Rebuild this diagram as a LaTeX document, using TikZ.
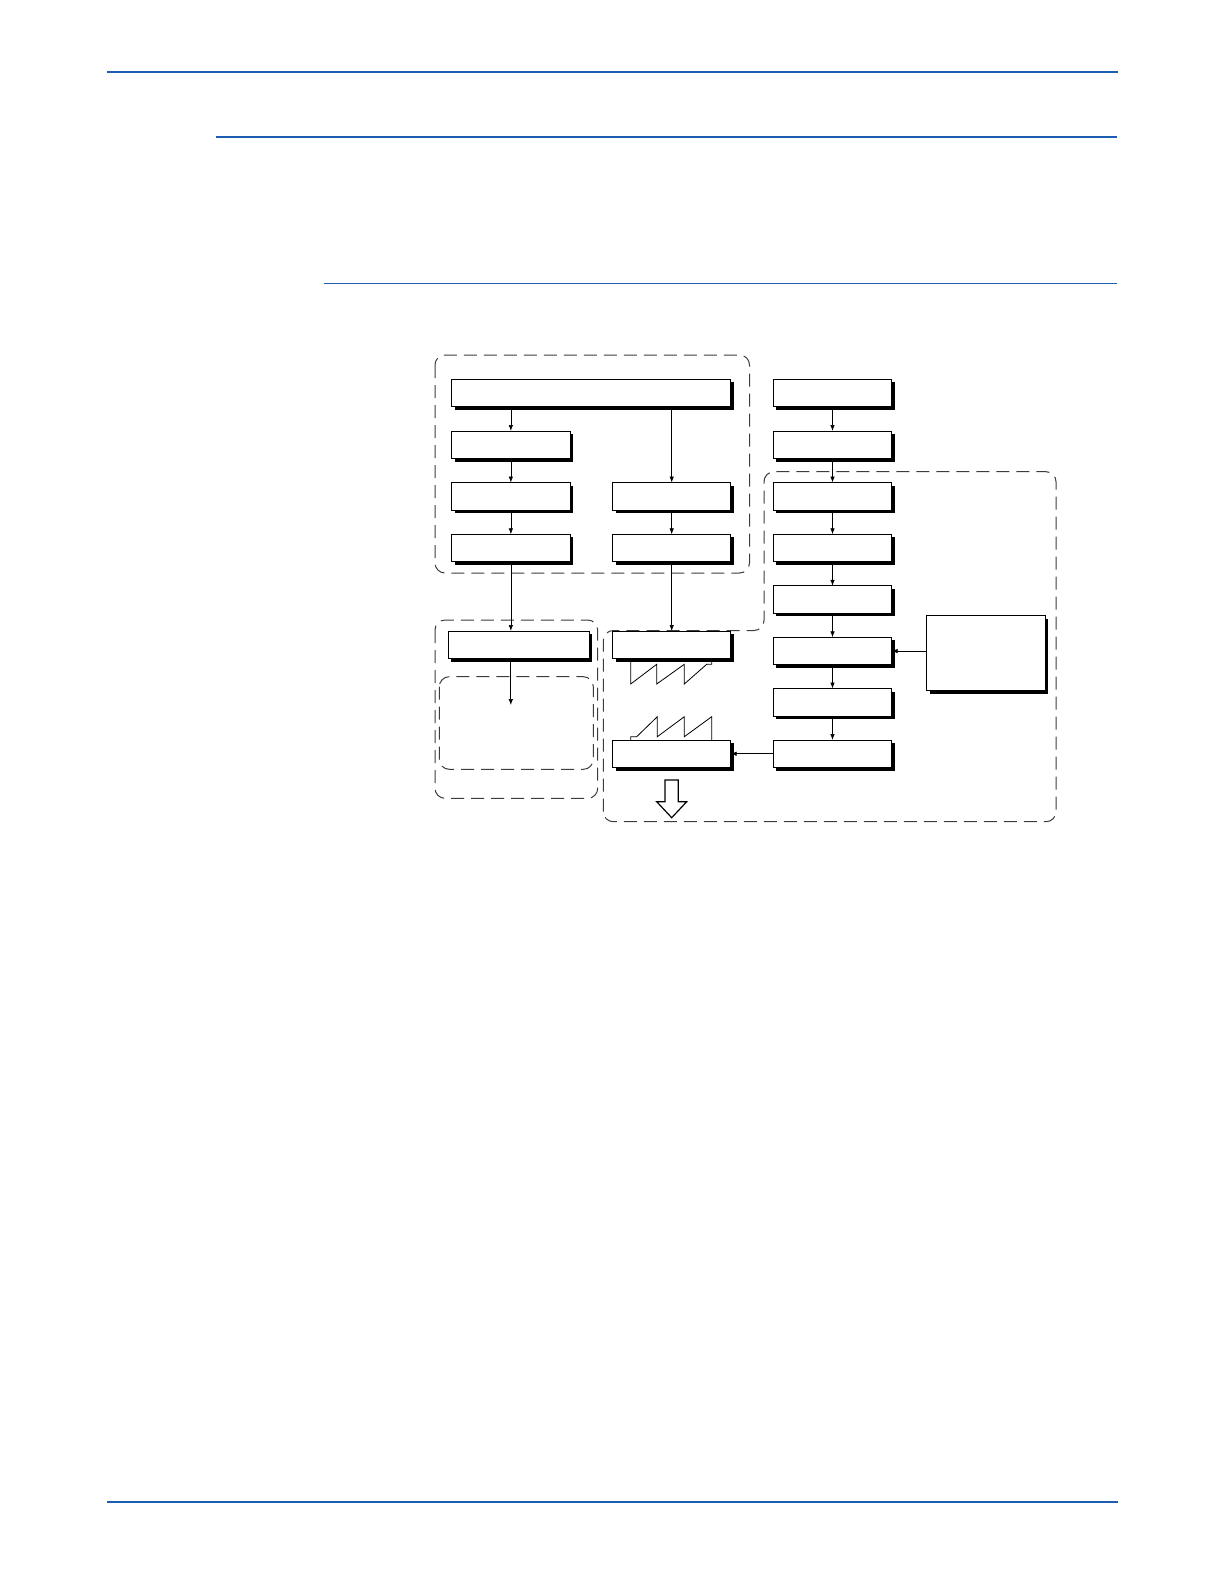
\documentclass[tikz,border=0pt]{standalone}
\usetikzlibrary{arrows.meta,shadows}
\definecolor{rule}{RGB}{28,92,178}
\definecolor{dsh}{RGB}{60,60,60}
\begin{document}
\begin{tikzpicture}[x=1pt,y=-1pt,
  blk/.style={draw=black, fill=white, line width=0.9pt, inner sep=0pt, outer sep=0pt,
    anchor=north west, minimum height=27.5pt,
    drop shadow={shadow xshift=3pt, shadow yshift=-3pt, fill=black, opacity=1}},
  arr/.style={line width=0.7pt, -{Latex[length=6pt,width=4.5pt]}},
  grp/.style={draw=dsh, line width=1pt, dash pattern=on 13pt off 7pt, rounded corners=10pt},
  bluerule/.style={draw=rule}]
\useasboundingbox (0,0) rectangle (1224,1584);
\fill[white] (0,0) rectangle (1224,1584);
% page rules
\draw[bluerule, line width=2.2pt] (107,72) -- (1118,72);
\draw[bluerule, line width=2pt] (216,137.5) -- (1117,137.5);
\draw[bluerule, line width=1.3pt] (324,283.3) -- (1117,283.3);
\draw[bluerule, line width=2pt] (107,1502) -- (1118,1502);
% dashed groups
\draw[grp] (435,355) rectangle (749.5,573);
\draw[grp] (435,620) rectangle (597.7,798.3);
\draw[grp] (439.3,676.7) rectangle (593.3,769.3);
\draw[grp] (603.3,821.7) -- (603.3,630.5) -- (764,630.5) -- (764,471.7) -- (1056,471.7) -- (1056,821.7) -- cycle;
% left-top group
\node[blk, minimum width=279pt] (a0) at (451.7,379.3) {};
\node[blk, minimum width=118.3pt] (a1) at (451.7,431) {};
\node[blk, minimum width=118.3pt] (a2) at (451.7,482.5) {};
\node[blk, minimum width=118.3pt] (a3) at (451.7,534.3) {};
\node[blk, minimum width=118pt] (b2) at (612.7,482.5) {};
\node[blk, minimum width=118pt] (b3) at (612.7,534.3) {};
% lower left
\node[blk, minimum width=141pt] (l4) at (448,631) {};
\coordinate (lend) at (510.8,705);
% right column of middle
\node[blk, minimum width=118pt] (r4) at (612.7,631) {};
\node[blk, minimum width=118pt] (r5) at (612.7,740) {};
% far right column
\node[blk, minimum width=118.4pt] (c1) at (773.3,379.3) {};
\node[blk, minimum width=118.4pt] (c2) at (773.3,431) {};
\node[blk, minimum width=118.4pt] (c3) at (773.3,482.5) {};
\node[blk, minimum width=118.4pt] (c4) at (773.3,534.3) {};
\node[blk, minimum width=118.4pt] (c5) at (773.3,585.8) {};
\node[blk, minimum width=118.4pt] (c6) at (773.3,637.3) {};
\node[blk, minimum width=118.4pt] (c7) at (773.3,688.5) {};
\node[blk, minimum width=118.4pt] (c8) at (773.3,740) {};
\node[blk, minimum width=118.3pt, minimum height=75pt] (side) at (926.7,615.7) {};
% connectors
\draw[arr] (a0.south -| a1.north) -- (a1.north);
\draw[arr] (a1) -- (a2);
\draw[arr] (a2) -- (a3);
\draw[arr] (a0.south -| b2.north) -- (b2.north);
\draw[arr] (b2) -- (b3);
\draw[arr] (a3.south) -- (a3.south |- l4.north);
\draw[arr] (l4.south -| lend) -- (lend);
\draw[arr] (b3.south) -- (b3.south |- r4.north);
\draw[arr] (c1) -- (c2);
\draw[arr] (c2) -- (c3);
\draw[arr] (c3) -- (c4);
\draw[arr] (c4) -- (c5);
\draw[arr] (c5) -- (c6);
\draw[arr] (c6) -- (c7);
\draw[arr] (c7) -- (c8);
\draw[arr] (side.west |- c6.east) -- (c6.east);
\draw[arr] (c8.west) -- (r5.east);
% sawtooth profiles
\draw[line width=0.8pt] (630.7,659.5) -- (630.7,684) -- (656.7,664.3) -- (656.7,684) -- (684.3,664.3) -- (684.3,684) -- (706.7,664.3) -- (711.7,664.3) -- (711.7,659.5);
\draw[line width=0.8pt] (630.7,740) -- (630.7,736.7) -- (636.7,736.7) -- (657.3,716.7) -- (657.3,736.7) -- (684.3,716.7) -- (684.3,736.7) -- (711.7,716.7) -- (711.7,740);
% hollow output arrow
\draw[line width=1.2pt, fill=white] (665,780) -- (678.3,780) -- (678.3,801.7) -- (686.7,801.7) -- (671.7,817.7) -- (656.7,801.7) -- (665,801.7) -- cycle;
\end{tikzpicture}
\end{document}
